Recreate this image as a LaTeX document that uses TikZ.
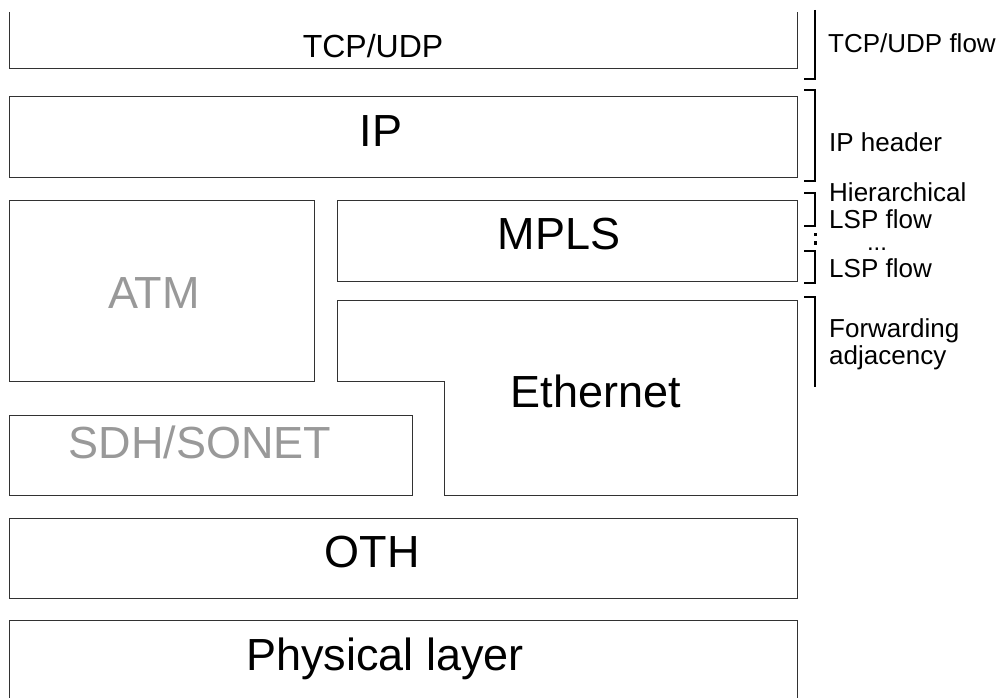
\documentclass[tikz,border=0pt]{standalone}
\usepackage{fontspec}
\setmainfont{Liberation Sans}
\definecolor{dimtext}{RGB}{153,153,153}
\definecolor{boxline}{RGB}{50,50,50}
\tikzset{
  layerbox/.style={draw=boxline, line width=1pt},
  bracketline/.style={draw=black, line width=2.6pt},
  biglabel/.style={anchor=base, inner sep=0pt, font=\fontsize{45}{54}\selectfont},
  dimlabel/.style={biglabel, text=dimtext},
  midlabel/.style={anchor=base, inner sep=0pt, font=\fontsize{32}{38}\selectfont},
  sidelabel/.style={anchor=base west, inner sep=0pt, font=\fontsize{26}{28}\selectfont},
}
\begin{document}
\begin{tikzpicture}[x=1pt, y=-1pt]
\useasboundingbox (0,0) rectangle (1005,698);

% protocol layers
\draw[layerbox] (9,12) -- (9,69) -- (797,69) -- (797,12);
\draw[layerbox] (9,97) rectangle (797,178);
\draw[layerbox] (9,201) rectangle (314,381);
\draw[layerbox] (337,201) rectangle (797,281);
\draw[layerbox] (337,300) -- (797,300) -- (797,495) -- (444,495) -- (444,381) -- (337,381) -- cycle;
\draw[layerbox] (9,415) rectangle (412,495);
\draw[layerbox] (9,518) rectangle (797,598);
\draw[layerbox] (9,698) -- (9,620) -- (797,620) -- (797,698);

\node[midlabel] (tcp) at (373,58) {TCP/UDP};
\node[biglabel] (ip) at (381,147) {IP};
\node[dimlabel] (atm) at (154,308) {ATM};
\node[biglabel] (mpls) at (559,250) {MPLS};
\node[biglabel] (eth) at (596,407) {Ethernet};
\node[dimlabel] (sdh) at (200,458) {SDH/SONET};
\node[biglabel] (oth) at (372,567) {OTH};
\node[biglabel] (phy) at (385,670) {Physical layer};

% flow brackets
\draw[bracketline] (815,10) -- (815,79) -- (804,79);
\draw[bracketline] (804,90) -- (815,90) -- (815,181) -- (804,181);
\draw[bracketline] (804,193) -- (815,193) -- (815,226) -- (804,226);
\fill (813.5,233.5) rectangle (816.5,236.5);
\fill (813.5,241.5) rectangle (816.5,244.5);
\draw[bracketline] (804,251) -- (815,251) -- (815,283) -- (804,283);
\draw[bracketline] (804,297) -- (815,297) -- (815,387);

\node[sidelabel] (ftcp) at (828,53) {TCP/UDP flow};
\node[sidelabel] (fip) at (829,152) {IP header};
\node[sidelabel] (fh1) at (829,201) {Hierarchical};
\node[sidelabel, text depth=0pt] (fh2) at (829,229) {LSP flow};
\node[anchor=base, inner sep=0pt, text height=3pt, text depth=0pt,
      font=\fontsize{24}{26}\selectfont] (fdots) at (877,251) {...};
\node[sidelabel] (flsp) at (829,277) {LSP flow};
\node[sidelabel] (ffa1) at (829,337) {Forwarding};
\node[sidelabel] (ffa2) at (829,364) {adjacency};
\end{tikzpicture}
\end{document}
